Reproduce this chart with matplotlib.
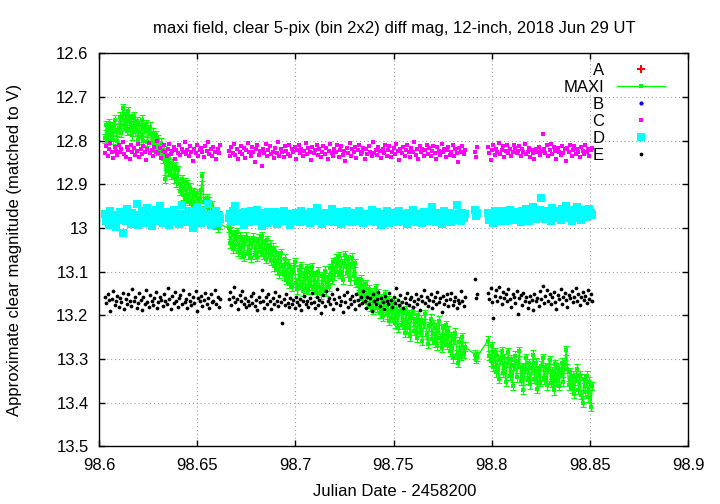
import numpy as np
import matplotlib
matplotlib.use('Agg')
import matplotlib.pyplot as plt
from matplotlib.ticker import FuncFormatter

plt.rcParams['font.family'] = ['Liberation Sans', 'DejaVu Sans']

# Julian date - 2458200 of each frame (all stars are measured on the same frames)
jd = [
    98.6030, 98.6037, 98.6044, 98.6051, 98.6058, 98.6065, 98.6072, 98.6079, 98.6086, 98.6093,
    98.6100, 98.6107, 98.6114, 98.6121, 98.6128, 98.6135, 98.6142, 98.6149, 98.6156, 98.6163,
    98.6170, 98.6177, 98.6184, 98.6191, 98.6198, 98.6205, 98.6212, 98.6219, 98.6226, 98.6233,
    98.6240, 98.6247, 98.6254, 98.6261, 98.6268, 98.6275, 98.6282, 98.6289, 98.6296, 98.6303,
    98.6310, 98.6317, 98.6324, 98.6331, 98.6338, 98.6345, 98.6352, 98.6359, 98.6366, 98.6373,
    98.6380, 98.6387, 98.6394, 98.6401, 98.6408, 98.6415, 98.6422, 98.6429, 98.6436, 98.6443,
    98.6450, 98.6457, 98.6464, 98.6471, 98.6478, 98.6485, 98.6492, 98.6499, 98.6506, 98.6513,
    98.6520, 98.6527, 98.6534, 98.6541, 98.6548, 98.6555, 98.6562, 98.6569, 98.6576, 98.6583,
    98.6590, 98.6597, 98.6604, 98.6611, 98.6618,
    98.6660, 98.6667, 98.6674, 98.6681, 98.6688, 98.6695, 98.6702, 98.6709, 98.6716, 98.6723,
    98.6730, 98.6737, 98.6744, 98.6751, 98.6758, 98.6765, 98.6772, 98.6779, 98.6786, 98.6793,
    98.6800, 98.6807, 98.6814, 98.6821, 98.6828, 98.6835, 98.6842, 98.6849, 98.6856, 98.6863,
    98.6870, 98.6877, 98.6884, 98.6891, 98.6898, 98.6905, 98.6912, 98.6919, 98.6926, 98.6933,
    98.6940, 98.6947, 98.6954, 98.6961, 98.6968, 98.6975, 98.6982, 98.6989, 98.6996, 98.7003,
    98.7010, 98.7017, 98.7024, 98.7031, 98.7038, 98.7045, 98.7052, 98.7059, 98.7066, 98.7073,
    98.7080, 98.7087, 98.7094, 98.7101, 98.7108, 98.7115, 98.7122, 98.7129, 98.7136, 98.7143,
    98.7150, 98.7157, 98.7164, 98.7171, 98.7178, 98.7185, 98.7192, 98.7199, 98.7206, 98.7213,
    98.7220, 98.7227, 98.7234, 98.7241, 98.7248, 98.7255, 98.7262, 98.7269, 98.7276, 98.7283,
    98.7290, 98.7297, 98.7304, 98.7311, 98.7318, 98.7325, 98.7332, 98.7339, 98.7346, 98.7353,
    98.7360, 98.7367, 98.7374, 98.7381, 98.7388, 98.7395, 98.7402, 98.7409, 98.7416, 98.7423,
    98.7430, 98.7437, 98.7444, 98.7451, 98.7458, 98.7465, 98.7472, 98.7479, 98.7486, 98.7493,
    98.7500, 98.7507, 98.7514, 98.7521, 98.7528, 98.7535, 98.7542, 98.7549, 98.7556, 98.7563,
    98.7570, 98.7577, 98.7584, 98.7591, 98.7598, 98.7605, 98.7612, 98.7619, 98.7626, 98.7633,
    98.7640, 98.7647, 98.7654, 98.7661, 98.7668, 98.7675, 98.7682, 98.7689, 98.7696, 98.7703,
    98.7710, 98.7717, 98.7724, 98.7731, 98.7738, 98.7745, 98.7752, 98.7759, 98.7766, 98.7773,
    98.7780, 98.7787, 98.7794, 98.7801, 98.7808, 98.7815, 98.7822, 98.7829, 98.7836, 98.7843,
    98.7850, 98.7857, 98.7864,
    98.7916, 98.7921, 98.7926,
    98.7980, 98.7987, 98.7994, 98.8001, 98.8008, 98.8015, 98.8022, 98.8029, 98.8036, 98.8043,
    98.8050, 98.8057, 98.8064, 98.8071, 98.8078, 98.8085, 98.8092, 98.8099, 98.8106, 98.8113,
    98.8120, 98.8127, 98.8134, 98.8141, 98.8148, 98.8155, 98.8162, 98.8169, 98.8176, 98.8183,
    98.8190, 98.8197, 98.8204, 98.8211, 98.8218, 98.8225, 98.8232, 98.8239, 98.8246, 98.8253,
    98.8260, 98.8267, 98.8274, 98.8281, 98.8288, 98.8295, 98.8302, 98.8309, 98.8316, 98.8323,
    98.8330, 98.8337, 98.8344, 98.8351, 98.8358, 98.8365, 98.8372, 98.8379, 98.8386, 98.8393,
    98.8400, 98.8407, 98.8414, 98.8421, 98.8428, 98.8435, 98.8442, 98.8449, 98.8456, 98.8463,
    98.8470, 98.8477, 98.8484, 98.8491, 98.8498, 98.8505, 98.8512,
]

maxi = [
    12.795, 12.765, 12.800, 12.760, 12.788, 12.768, 12.798, 12.752, 12.780, 12.800,
    12.770, 12.745, 12.782, 12.725, 12.765, 12.740, 12.778, 12.732, 12.775, 12.748,
    12.788, 12.745, 12.780, 12.755, 12.798, 12.765, 12.792, 12.752, 12.800, 12.770,
    12.762, 12.802, 12.778, 12.768, 12.806, 12.782, 12.815, 12.788, 12.822, 12.798,
    12.820, 12.805, 12.842, 12.822, 12.888, 12.845, 12.870, 12.838, 12.878, 12.852,
    12.886, 12.858, 12.895, 12.868, 12.900, 12.915, 12.888, 12.925, 12.895, 12.932,
    12.900, 12.938, 12.908, 12.945, 12.918, 12.950, 12.925, 12.920, 12.958, 12.932,
    12.912, 12.882, 12.940, 12.965, 12.932, 12.975, 12.940, 12.982, 12.948, 12.970,
    12.992, 12.962, 13.000, 12.970, 12.992,
    13.000, 13.035, 13.008, 13.048, 13.015, 13.040, 13.010, 13.055, 13.020, 13.058,
    13.025, 13.065, 13.030, 13.020, 13.060, 13.028, 13.068, 13.035, 13.022, 13.062,
    13.030, 13.066, 13.024, 13.055, 13.018, 13.062, 13.035, 13.070, 13.028, 13.058,
    13.038, 13.075, 13.045, 13.088, 13.052, 13.095, 13.062, 13.105, 13.058, 13.090,
    13.108, 13.070, 13.118, 13.082, 13.128, 13.090, 13.135, 13.095, 13.078, 13.125,
    13.140, 13.095, 13.130, 13.088, 13.145, 13.102, 13.138, 13.092, 13.142, 13.100,
    13.132, 13.090, 13.140, 13.108, 13.148, 13.100, 13.135, 13.152, 13.110, 13.140,
    13.098, 13.145, 13.112, 13.135, 13.092, 13.118, 13.078, 13.108, 13.070, 13.100,
    13.065, 13.105, 13.075, 13.118, 13.080, 13.062, 13.102, 13.072, 13.120, 13.082,
    13.068, 13.110, 13.080, 13.125, 13.122, 13.152, 13.118, 13.162, 13.130, 13.158,
    13.128, 13.172, 13.140, 13.180, 13.148, 13.188, 13.155, 13.138, 13.182, 13.150,
    13.195, 13.160, 13.202, 13.168, 13.152, 13.198, 13.165, 13.212, 13.175, 13.205,
    13.170, 13.218, 13.185, 13.228, 13.190, 13.178, 13.222, 13.195, 13.240, 13.188,
    13.230, 13.198, 13.248, 13.205, 13.190, 13.235, 13.208, 13.252, 13.200, 13.238,
    13.210, 13.258, 13.218, 13.198, 13.245, 13.265, 13.225, 13.208, 13.255, 13.220,
    13.262, 13.228, 13.270, 13.212, 13.252, 13.275, 13.230, 13.260, 13.222, 13.268,
    13.235, 13.282, 13.248, 13.298, 13.255, 13.240, 13.290, 13.308, 13.260, 13.292,
    13.250, 13.288, 13.272,
    13.290, 13.300, 13.295,
    13.258, 13.292, 13.305, 13.270, 13.318, 13.285, 13.330, 13.292, 13.345, 13.302,
    13.282, 13.332, 13.298, 13.352, 13.308, 13.285, 13.338, 13.300, 13.362, 13.315,
    13.292, 13.342, 13.310, 13.282, 13.350, 13.318, 13.370, 13.322, 13.298, 13.348,
    13.310, 13.358, 13.320, 13.290, 13.345, 13.308, 13.368, 13.325, 13.352, 13.315,
    13.298, 13.348, 13.318, 13.360, 13.322, 13.302, 13.355, 13.328, 13.372, 13.312,
    13.350, 13.320, 13.362, 13.330, 13.308, 13.352, 13.312, 13.280, 13.322, 13.360,
    13.330, 13.368, 13.338, 13.380, 13.342, 13.322, 13.370, 13.338, 13.382, 13.400,
    13.345, 13.375, 13.338, 13.388, 13.352, 13.410, 13.362,
]
maxi_err = 0.01

star_c = [
    12.828, 12.812, 12.835, 12.819, 12.806, 12.826, 12.840, 12.815, 12.823, 12.832,
    12.810, 12.825, 12.818, 12.802, 12.830, 12.837, 12.814, 12.822, 12.843, 12.811,
    12.827, 12.817, 12.833, 12.824, 12.808, 12.838, 12.820, 12.831, 12.813, 12.826,
    12.845, 12.818, 12.805, 12.829, 12.821, 12.834, 12.815, 12.825, 12.800, 12.829,
    12.816, 12.839, 12.823, 12.810, 12.827, 12.836, 12.819, 12.807, 12.831, 12.824,
    12.814, 12.842, 12.822, 12.828, 12.811, 12.833, 12.818, 12.826, 12.804, 12.830,
    12.821, 12.836, 12.813, 12.825, 12.847, 12.819, 12.829, 12.809, 12.834, 12.822,
    12.816, 12.827, 12.838, 12.812, 12.824, 12.803, 12.831, 12.820, 12.835, 12.815,
    12.826, 12.842, 12.818, 12.829, 12.811,
    12.823, 12.836, 12.814, 12.828, 12.808, 12.832, 12.819, 12.843, 12.825, 12.812,
    12.830, 12.817, 12.839, 12.822, 12.806, 12.827, 12.834, 12.815, 12.826, 12.848,
    12.820, 12.811, 12.833, 12.824, 12.857, 12.818, 12.829, 12.807, 12.836, 12.821,
    12.813, 12.831, 12.825, 12.840, 12.816, 12.828, 12.803, 12.834, 12.819, 12.826,
    12.838, 12.812, 12.823, 12.830, 12.809, 12.835, 12.820, 12.827, 12.815, 12.841,
    12.822, 12.810, 12.829, 12.818, 12.836, 12.824, 12.805, 12.831, 12.817, 12.826,
    12.844, 12.814, 12.828, 12.821, 12.809, 12.833, 12.819, 12.837, 12.825, 12.812,
    12.830, 12.816, 12.842, 12.823, 12.807, 12.829, 12.834, 12.818, 12.826, 12.811,
    12.838, 12.821, 12.813, 12.832, 12.824, 12.846, 12.817, 12.828, 12.806, 12.835,
    12.820, 12.827, 12.814, 12.839, 12.822, 12.809, 12.831, 12.825, 12.816, 12.843,
    12.819, 12.830, 12.812, 12.826, 12.836, 12.804, 12.828, 12.821, 12.833, 12.815,
    12.824, 12.840, 12.818, 12.829, 12.810, 12.834, 12.822, 12.813, 12.837, 12.826,
    12.817, 12.831, 12.808, 12.823, 12.845, 12.819, 12.828, 12.814, 12.835, 12.821,
    12.811, 12.827, 12.838, 12.816, 12.825, 12.803, 12.832, 12.820, 12.841, 12.813,
    12.826, 12.818, 12.834, 12.822, 12.809, 12.830, 12.817, 12.836, 12.824, 12.812,
    12.829, 12.843, 12.815, 12.823, 12.832, 12.807, 12.827, 12.819, 12.838, 12.821,
    12.814, 12.833, 12.825, 12.811, 12.836, 12.820, 12.828, 12.848, 12.817, 12.826,
    12.813, 12.831, 12.822,
    12.826, 12.838, 12.815,
    12.815, 12.829, 12.844, 12.821, 12.810, 12.833, 12.818, 12.826, 12.806, 12.830,
    12.822, 12.813, 12.837, 12.824, 12.809, 12.828, 12.819, 12.834, 12.826, 12.811,
    12.817, 12.829, 12.823, 12.812, 12.835, 12.820, 12.827, 12.808, 12.831, 12.825,
    12.816, 12.838, 12.822, 12.829, 12.843, 12.819, 12.826, 12.814, 12.832, 12.823,
    12.785, 12.818, 12.828, 12.810, 12.836, 12.821, 12.807, 12.830, 12.815, 12.824,
    12.841, 12.817, 12.826, 12.833, 12.812, 12.829, 12.820, 12.846, 12.816, 12.825,
    12.809, 12.834, 12.822, 12.813, 12.831, 12.819, 12.827, 12.838, 12.814, 12.823,
    12.830, 12.811, 12.826, 12.818, 12.835, 12.821, 12.816,
]

star_d = [
    12.968, 12.985, 12.974, 12.992, 12.960, 12.979, 12.987, 12.970, 12.998, 12.973,
    12.981, 12.963, 12.977, 13.012, 12.969, 12.984, 12.956, 12.980, 12.972, 12.990,
    12.965, 12.982, 12.975, 12.944, 12.993, 12.970, 12.984, 12.961, 12.977, 12.988,
    12.971, 12.954, 12.980, 12.974, 12.996, 12.966, 12.978, 12.959, 12.985, 12.972,
    12.950, 12.976, 12.989, 12.968, 12.982, 12.963, 12.979, 12.994, 12.971, 12.986,
    12.958, 12.975, 12.983, 12.967, 12.990, 12.973, 12.948, 12.980, 12.969, 12.987,
    12.976, 12.962, 12.984, 12.971, 12.999, 12.966, 12.978, 12.953, 12.981, 12.974,
    12.989, 12.960, 12.977, 12.970, 12.985, 12.944, 12.979, 12.992, 12.968, 12.983,
    12.975, 12.961, 12.988, 12.972, 12.980,
    12.978, 12.969, 12.987, 12.961, 12.975, 12.950, 12.983, 12.972, 12.966, 12.981,
    12.974, 12.992, 12.964, 12.979, 12.970, 12.986, 12.962, 12.977, 12.968, 12.983,
    12.973, 12.958, 12.981, 12.976, 12.995, 12.966, 12.980, 12.971, 12.988, 12.963,
    12.975, 12.984, 12.969, 12.978, 12.964, 12.990, 12.974, 12.968, 12.982, 12.977,
    12.961, 12.985, 12.972, 12.980, 12.967, 12.992, 12.975, 12.970, 12.983, 12.965,
    12.978, 12.971, 12.986, 12.960, 12.976, 12.984, 12.968, 12.979, 12.973, 12.988,
    12.963, 12.977, 12.970, 12.985, 12.954, 12.975, 12.982, 12.967, 12.991, 12.972,
    12.980, 12.965, 12.984, 12.976, 12.969, 12.957, 12.979, 12.986, 12.971, 12.981,
    12.964, 12.974, 12.990, 12.968, 12.978, 12.984, 12.961, 12.975, 12.981, 12.970,
    12.987, 12.966, 12.977, 12.972, 12.983, 12.962, 12.979, 12.974, 12.989, 12.967,
    12.976, 12.982, 12.969, 12.985, 12.958, 12.978, 12.971, 12.986, 12.964, 12.980,
    12.973, 12.992, 12.968, 12.977, 12.983, 12.960, 12.975, 12.988, 12.970, 12.981,
    12.966, 12.979, 12.974, 12.987, 12.962, 12.976, 12.984, 12.969, 12.978, 12.972,
    12.990, 12.965, 12.980, 12.975, 12.958, 12.983, 12.970, 12.986, 12.967, 12.977,
    12.974, 12.989, 12.963, 12.979, 12.971, 12.984, 12.968, 12.976, 12.952, 12.981,
    12.973, 12.986, 12.966, 12.978, 12.970, 12.991, 12.975, 12.962, 12.983, 12.972,
    12.979, 12.965, 12.987, 12.974, 12.969, 12.982, 12.948, 12.977, 12.971, 12.985,
    12.966, 12.976, 12.968,
    12.958, 12.972, 12.965,
    12.965, 12.981, 12.970, 12.976, 12.988, 12.962, 12.974, 12.980, 12.967, 12.985,
    12.971, 12.960, 12.978, 12.969, 12.983, 12.974, 12.958, 12.977, 12.966, 12.972,
    12.981, 12.963, 12.975, 12.968, 12.986, 12.961, 12.973, 12.979, 12.956, 12.970,
    12.984, 12.965, 12.976, 12.951, 12.969, 12.980, 12.963, 12.974, 12.958, 12.932,
    12.971, 12.966, 12.979, 12.960, 12.975, 12.968, 12.984, 12.955, 12.972, 12.964,
    12.977, 12.961, 12.969, 12.982, 12.957, 12.973, 12.966, 12.950, 12.978, 12.962,
    12.970, 12.985, 12.959, 12.974, 12.967, 12.953, 12.976, 12.963, 12.981, 12.958,
    12.969, 12.975, 12.961, 12.972, 12.956, 12.966, 12.970,
]

star_e = [
    13.158, 13.172, 13.150, 13.165, 13.190, 13.162, 13.145, 13.176, 13.168, 13.155,
    13.181, 13.160, 13.170, 13.148, 13.185, 13.163, 13.174, 13.152, 13.167, 13.178,
    13.140, 13.166, 13.159, 13.183, 13.171, 13.149, 13.164, 13.188, 13.157, 13.173,
    13.143, 13.169, 13.180, 13.154, 13.166, 13.176, 13.161, 13.147, 13.184, 13.170,
    13.158, 13.165, 13.179, 13.151, 13.168, 13.175, 13.138, 13.162, 13.186, 13.156,
    13.171, 13.146, 13.167, 13.180, 13.160, 13.153, 13.174, 13.142, 13.169, 13.163,
    13.182, 13.150, 13.166, 13.177, 13.157, 13.172, 13.145, 13.189, 13.161, 13.168,
    13.155, 13.178, 13.164, 13.149, 13.173, 13.160, 13.184, 13.152, 13.170, 13.166,
    13.141, 13.175, 13.158, 13.181, 13.163,
    13.162, 13.146, 13.177, 13.158, 13.135, 13.170, 13.163, 13.186, 13.153, 13.168,
    13.144, 13.174, 13.160, 13.181, 13.166, 13.176, 13.155, 13.172, 13.149, 13.179,
    13.164, 13.187, 13.157, 13.170, 13.142, 13.167, 13.182, 13.159, 13.175, 13.150,
    13.168, 13.185, 13.161, 13.173, 13.147, 13.166, 13.178, 13.156, 13.169, 13.217,
    13.163, 13.176, 13.152, 13.171, 13.180, 13.160, 13.174, 13.165, 13.183, 13.158,
    13.170, 13.177, 13.162, 13.188, 13.168, 13.155, 13.175, 13.166, 13.181, 13.161,
    13.172, 13.148, 13.169, 13.183, 13.157, 13.176, 13.164, 13.195, 13.170, 13.153,
    13.179, 13.145, 13.167, 13.160, 13.174, 13.150, 13.185, 13.163, 13.171, 13.140,
    13.158, 13.176, 13.166, 13.192, 13.154, 13.169, 13.147, 13.180, 13.162, 13.173,
    13.156, 13.168, 13.185, 13.150, 13.164, 13.177, 13.159, 13.171, 13.144, 13.166,
    13.182, 13.157, 13.173, 13.161, 13.189, 13.152, 13.168, 13.175, 13.163, 13.146,
    13.179, 13.160, 13.170, 13.186, 13.155, 13.167, 13.174, 13.149, 13.164, 13.181,
    13.158, 13.172, 13.138, 13.165, 13.177, 13.153, 13.169, 13.184, 13.160, 13.171,
    13.148, 13.176, 13.163, 13.157, 13.180, 13.166, 13.151, 13.174, 13.162, 13.187,
    13.155, 13.168, 13.143, 13.172, 13.159, 13.178, 13.164, 13.150, 13.183, 13.167,
    13.158, 13.175, 13.146, 13.170, 13.161, 13.192, 13.156, 13.173, 13.165, 13.152,
    13.179, 13.162, 13.148, 13.176, 13.168, 13.157, 13.183, 13.164, 13.171, 13.145,
    13.166, 13.178, 13.159,
    13.117, 13.160, 13.150,
    13.148, 13.162, 13.138, 13.170, 13.205, 13.155, 13.143, 13.166, 13.135, 13.158,
    13.175, 13.147, 13.160, 13.152, 13.168, 13.140, 13.163, 13.180, 13.150, 13.157,
    13.172, 13.145, 13.196, 13.161, 13.153, 13.176, 13.149, 13.166, 13.158, 13.182,
    13.170, 13.155, 13.164, 13.187, 13.152, 13.168, 13.160, 13.178, 13.145, 13.163,
    13.133, 13.171, 13.156, 13.142, 13.167, 13.151, 13.174, 13.159, 13.146, 13.169,
    13.185, 13.154, 13.162, 13.139, 13.173, 13.157, 13.148, 13.165, 13.180, 13.153,
    13.161, 13.144, 13.170, 13.158, 13.137, 13.166, 13.150, 13.176, 13.159, 13.147,
    13.164, 13.155, 13.172, 13.141, 13.162, 13.152, 13.168,
]

assert len(jd) == len(maxi) == len(star_c) == len(star_d) == len(star_e), \
    (len(jd), len(maxi), len(star_c), len(star_d), len(star_e))

title = 'maxi field, clear 5-pix (bin 2x2) diff mag, 12-inch, 2018 Jun 29 UT'
green = '#00ff00'

fig = plt.figure(figsize=(7.2, 5.04), dpi=100)
ax = fig.add_axes([0.1375, 0.1143, 0.8181, 0.7799])

# Stars A and B lie off the plotted range but still get a key entry
h_a, = ax.plot([], [], '+', color='#ff0000', ms=6, mew=1.5, label='A')
ax.errorbar(jd, maxi, yerr=maxi_err, fmt='none', ecolor=green,
            elinewidth=0.8, capsize=2, capthick=0.8)
h_maxi, = ax.plot(jd, maxi, '-', marker='s', ms=2.5, mew=0, color=green,
                  lw=1, label='MAXI')
h_b, = ax.plot([], [], 'o', color='#0000ff', ms=3, mew=0, label='B')
h_c, = ax.plot(jd, star_c, 's', color='#ff00ff', ms=3.4, mew=0, label='C')
h_d, = ax.plot(jd, star_d, 's', color='#00ffff', ms=5.5, mew=0, label='D')
h_e, = ax.plot(jd, star_e, 'o', color='black', ms=2.7, mew=0, label='E')

ax.set_xlim(98.6, 98.9)
ax.set_ylim(13.5, 12.6)
ax.set_xticks(np.arange(98.6, 98.9001, 0.05))
ax.set_yticks(np.arange(12.6, 13.5001, 0.1))
fmt = FuncFormatter(lambda v, p: '%g' % round(v, 4))
ax.xaxis.set_major_formatter(fmt)
ax.yaxis.set_major_formatter(fmt)
ax.tick_params(axis='both', direction='in', length=4.5, width=1,
               top=True, right=True, labelsize=12)
ax.tick_params(axis='x', pad=8)
ax.tick_params(axis='y', pad=7.5)
ax.grid(True, color='#a0a0a0', linestyle=(0, (1, 2.5)), linewidth=0.8)
for s in ax.spines.values():
    s.set_linewidth(1)

leg = ax.legend(handles=[h_a, h_maxi, h_b, h_c, h_d, h_e],
                loc='upper right', bbox_to_anchor=(0.961, 0.975),
                frameon=False, markerfirst=False, numpoints=1, fontsize=12,
                handlelength=2.9, handletextpad=0.75, labelspacing=0.12,
                borderpad=0, borderaxespad=0)

fig.text(394.5 / 720, 1 - 28 / 504, title, ha='center', va='center',
         fontsize=12)
fig.text(394.5 / 720, 1 - 492 / 504, 'Julian Date - 2458200', ha='center',
         va='center', fontsize=12)
fig.text(15 / 720, 0.504, 'Approximate clear magnitude (matched to V)',
         ha='center', va='center', rotation=90, fontsize=12)

fig.savefig('out.png', dpi=100)
